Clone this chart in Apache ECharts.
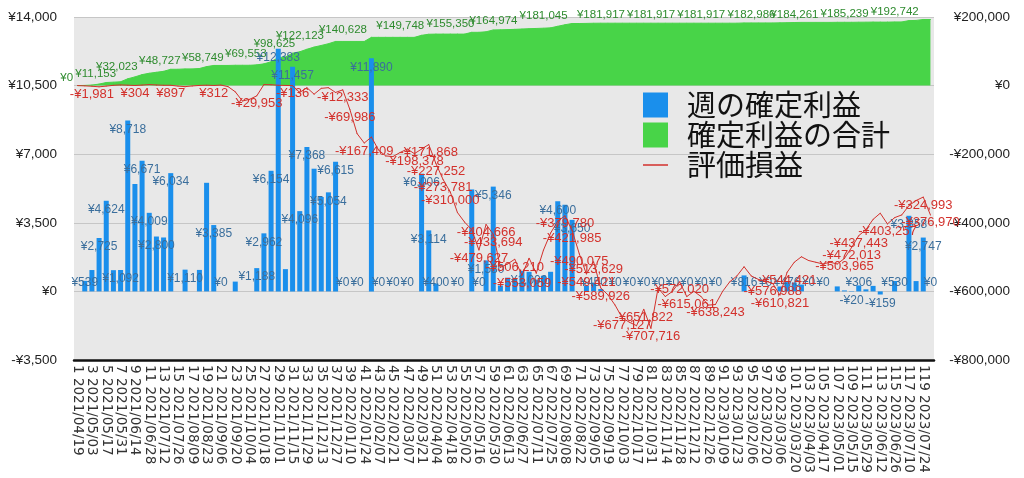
<!DOCTYPE html>
<html><head><meta charset="utf-8">
<script src="https://cdn.jsdelivr.net/npm/echarts@6/dist/echarts.min.js"></script>
<style>html,body{margin:0;padding:0;background:#fff;}#c{width:1024px;height:478px;}</style>
</head><body><div id="c"></div>
<script>
const categories = [
'2021/04/19','2021/04/26','2021/05/03','2021/05/10','2021/05/17','2021/05/24','2021/05/31','2021/06/07','2021/06/14','2021/06/21',
'2021/06/28','2021/07/05','2021/07/12','2021/07/19','2021/07/26','2021/08/02','2021/08/09','2021/08/16','2021/08/23','2021/08/30',
'2021/09/06','2021/09/13','2021/09/20','2021/09/27','2021/10/04','2021/10/11','2021/10/18','2021/10/25','2021/11/01','2021/11/08',
'2021/11/15','2021/11/22','2021/11/29','2021/12/06','2021/12/13','2021/12/20','2021/12/27','2022/01/03','2022/01/10','2022/01/17',
'2022/01/24','2022/01/31','2022/02/07','2022/02/14','2022/02/21','2022/02/28','2022/03/07','2022/03/14','2022/03/21','2022/03/28',
'2022/04/04','2022/04/11','2022/04/18','2022/04/25','2022/05/02','2022/05/09','2022/05/16','2022/05/23','2022/05/30','2022/06/06',
'2022/06/13','2022/06/20','2022/06/27','2022/07/04','2022/07/11','2022/07/18','2022/07/25','2022/08/01','2022/08/08','2022/08/15',
'2022/08/22','2022/08/29','2022/09/05','2022/09/12','2022/09/19','2022/09/26','2022/10/03','2022/10/10','2022/10/17','2022/10/24',
'2022/10/31','2022/11/07','2022/11/14','2022/11/21','2022/11/28','2022/12/05','2022/12/12','2022/12/19','2022/12/26','2023/01/02',
'2023/01/09','2023/01/16','2023/01/23','2023/01/30','2023/02/06','2023/02/13','2023/02/20','2023/02/27','2023/03/06','2023/03/13',
'2023/03/20','2023/03/27','2023/04/03','2023/04/10','2023/04/17','2023/04/24','2023/05/01','2023/05/08','2023/05/15','2023/05/22',
'2023/05/29','2023/06/05','2023/06/12','2023/06/19','2023/06/26','2023/07/03','2023/07/10','2023/07/17','2023/07/24','2023/07/31'
];
const weeklyProfit = [
0,539,1090,2725,4624,1083,1092,8718,5481,6671,
4009,2800,2751,6034,0,1110,0,1096,5541,3385,
0,0,500,0,0,1188,2962,6154,12383,1136,
11457,4096,7368,6260,4816,5054,6615,0,0,0,
0,11890,0,0,0,0,0,0,6006,3114,
400,0,0,0,0,5202,0,1580,5346,300,
700,650,1048,1000,600,800,1000,4600,4421,3650,
0,300,450,122,0,0,0,0,0,0,
0,0,0,0,0,0,0,0,0,0,
0,0,0,816,0,0,0,0,253,476,
450,349,0,0,0,0,255,50,-20,306,
106,281,-159,0,530,0,3858,527,2747,0
];
const cumulativeProfit = [
0,539,1629,4354,8978,10061,11153,19871,25352,32023,
36032,38832,41583,47617,47617,48727,48727,49823,55364,58749,
58749,58749,59249,59249,59249,60437,63399,69553,81936,83072,
94529,98625,105993,112253,117069,122123,128738,128738,128738,128738,
128738,140628,140628,140628,140628,140628,140628,140628,146634,149748,
150148,150148,150148,150148,150148,155350,155350,156930,162276,162576,
163276,163926,164974,165974,166574,167374,168374,172974,177395,181045,
181045,181345,181795,181917,181917,181917,181917,181917,181917,181917,
181917,181917,181917,181917,181917,181917,181917,181917,181917,181917,
181917,181917,181917,182733,182733,182733,182733,182733,182986,183462,
183912,184261,184261,184261,184261,184261,184516,184566,184546,184852,
184958,185239,185080,185080,185610,185610,189468,189995,192742,192742
];
const unrealizedPL = [
0,-800,-1981,-3500,-1500,800,2000,1200,304,1500,
3000,1800,900,897,-1500,-3000,-1000,500,1200,312,
1500,-3000,-18000,-45000,-40000,-29953,3000,2500,1000,500,
-136,-20000,-6000,-25000,-8000,-6000,-20000,-12333,-69986,-140000,
-167409,-150000,-188000,-205000,-207000,-195000,-185000,-198378,-185000,-171868,
-227252,-273781,-310000,-370000,-398000,-420000,-479627,-404666,-433694,-530000,
-520000,-506210,-553059,-503000,-547000,-480000,-430000,-395000,-379780,-421985,
-490075,-549421,-513629,-589926,-610000,-640000,-677127,-690000,-700000,-651822,
-707716,-590000,-615000,-600000,-572020,-615061,-600000,-615000,-640000,-638243,
-600000,-572000,-555000,-528000,-555000,-565000,-570000,-576988,-610821,-544421,
-515000,-499000,-510000,-515000,-520000,-515000,-520000,-503965,-472013,-437443,
-420000,-390000,-372000,-403257,-385000,-377000,-350000,-335000,-324993,-376970
];
const leftTicks = [-3500, 0, 3500, 7000, 10500, 14000];
const rightTicks = [-800000, -600000, -400000, -200000, 0, 200000];
const cumLabelIdx = [0,6,9,15,21,27,31,35,41,49,56,62,69,77,84,91,98,104,111,118];
const unrealLabelIdx = [2,8,13,19,25,30,37,38,40,47,49,50,51,52,56,57,58,61,62,68,69,70,71,72,73,76,79,80,84,85,89,97,98,99,107,108,109,113,118,119];
const seriesNames = ['週の確定利益', '確定利益の合計', '評価損益'];

function yen(v) { return (v < 0 ? '-' : '') + '¥' + Math.abs(v).toLocaleString('en-US'); }
const FONT = 'Liberation Sans, Arial, sans-serif';
const BLUE = '#1a8fec', GREEN = '#48d448', RED = '#d3312c';

const cumSet = new Set(cumLabelIdx), unSet = new Set(unrealLabelIdx);
const barData = weeklyProfit.map(v => ({
  value: v,
  label: { position: v < 0 ? 'bottom' : (v < 1000 ? 'insideBottom' : 'insideTop') }
}));
const cumData = cumulativeProfit.map((v, i) => ({ value: v, label: { show: cumSet.has(i) } }));
const unData = unrealizedPL.map((v, i) => ({ value: v, label: { show: unSet.has(i) } }));

const chart = echarts.init(document.getElementById('c'), null, { renderer: 'canvas' });
chart.setOption({
  animation: false,
  backgroundColor: '#ffffff',
  textStyle: { fontFamily: FONT },
  grid: { left: 74, right: 90, top: 17, bottom: 118, show: true, backgroundColor: '#e8e8e8', borderWidth: 0 },
  legend: {
    orient: 'vertical', left: 643, top: 90.5, padding: 0, itemWidth: 25, itemHeight: 25, itemGap: 1,
    symbolKeepAspect: true,
    textStyle: { fontSize: 29, color: '#111', fontFamily: 'Noto Sans CJK JP', padding: [0, 0, 0, 14] },
    data: [
      { name: seriesNames[0], icon: 'rect', itemStyle: { color: BLUE } },
      { name: seriesNames[1], icon: 'rect', itemStyle: { color: GREEN, opacity: 1 } },
      { name: seriesNames[2], icon: 'path://M0,0 L50,0 L50,3 L0,3 Z', itemStyle: { color: RED, opacity: 1 } }
    ]
  },
  xAxis: {
    type: 'category', data: categories, boundaryGap: true,
    axisLine: { onZero: false, lineStyle: { color: '#111', width: 2.5 } },
    axisTick: { show: false },
    axisLabel: { rotate: -90, interval: 1, fontSize: 13.5, color: '#333', margin: 5, fontFamily: 'DejaVu Sans',
      formatter: (val, idx) => (idx + 1) + ' ' + val }
  },
  yAxis: [
    { type: 'value', min: leftTicks[0], max: leftTicks[leftTicks.length - 1], interval: leftTicks[1] - leftTicks[0],
      axisLine: { show: false }, axisTick: { show: false },
      splitLine: { lineStyle: { color: '#c6c6c6', width: 1 } },
      axisLabel: { formatter: yen, fontSize: 13.5, color: '#222', margin: 17 } },
    { type: 'value', min: rightTicks[0], max: rightTicks[rightTicks.length - 1], interval: rightTicks[1] - rightTicks[0],
      axisLine: { show: false }, axisTick: { show: false }, splitLine: { show: false },
      axisLabel: { formatter: yen, fontSize: 13.5, color: '#222', align: 'right', margin: 76 } }
  ],
  series: [
    { name: seriesNames[1], type: 'line', yAxisIndex: 1, data: cumData, z: 1,
      symbol: 'circle', symbolSize: 1, showSymbol: true,
      itemStyle: { color: GREEN }, lineStyle: { color: GREEN, width: 1 },
      areaStyle: { color: GREEN, opacity: 1 },
      label: { show: false, position: 'left', distance: 4, offset: [0, -8], formatter: p => yen(p.value),
        fontSize: 11.5, color: '#2e8b2e', fontFamily: FONT } },
    { name: seriesNames[0], type: 'bar', yAxisIndex: 0, data: barData, barWidth: 5, z: 2,
      itemStyle: { color: BLUE },
      label: { show: true, distance: 3, formatter: p => yen(p.value), fontSize: 12, color: '#3a6e9c', fontFamily: FONT },
      labelLayout: { hideOverlap: true } },
    { name: seriesNames[2], type: 'line', yAxisIndex: 1, data: unData, z: 3,
      symbol: 'circle', symbolSize: 1, showSymbol: true,
      itemStyle: { color: RED }, lineStyle: { color: RED, width: 1 },
      label: { show: false, position: 'bottom', distance: 1, formatter: p => yen(p.value),
        fontSize: 13, color: RED, fontFamily: FONT } }
  ]
});
</script>
</body></html>
